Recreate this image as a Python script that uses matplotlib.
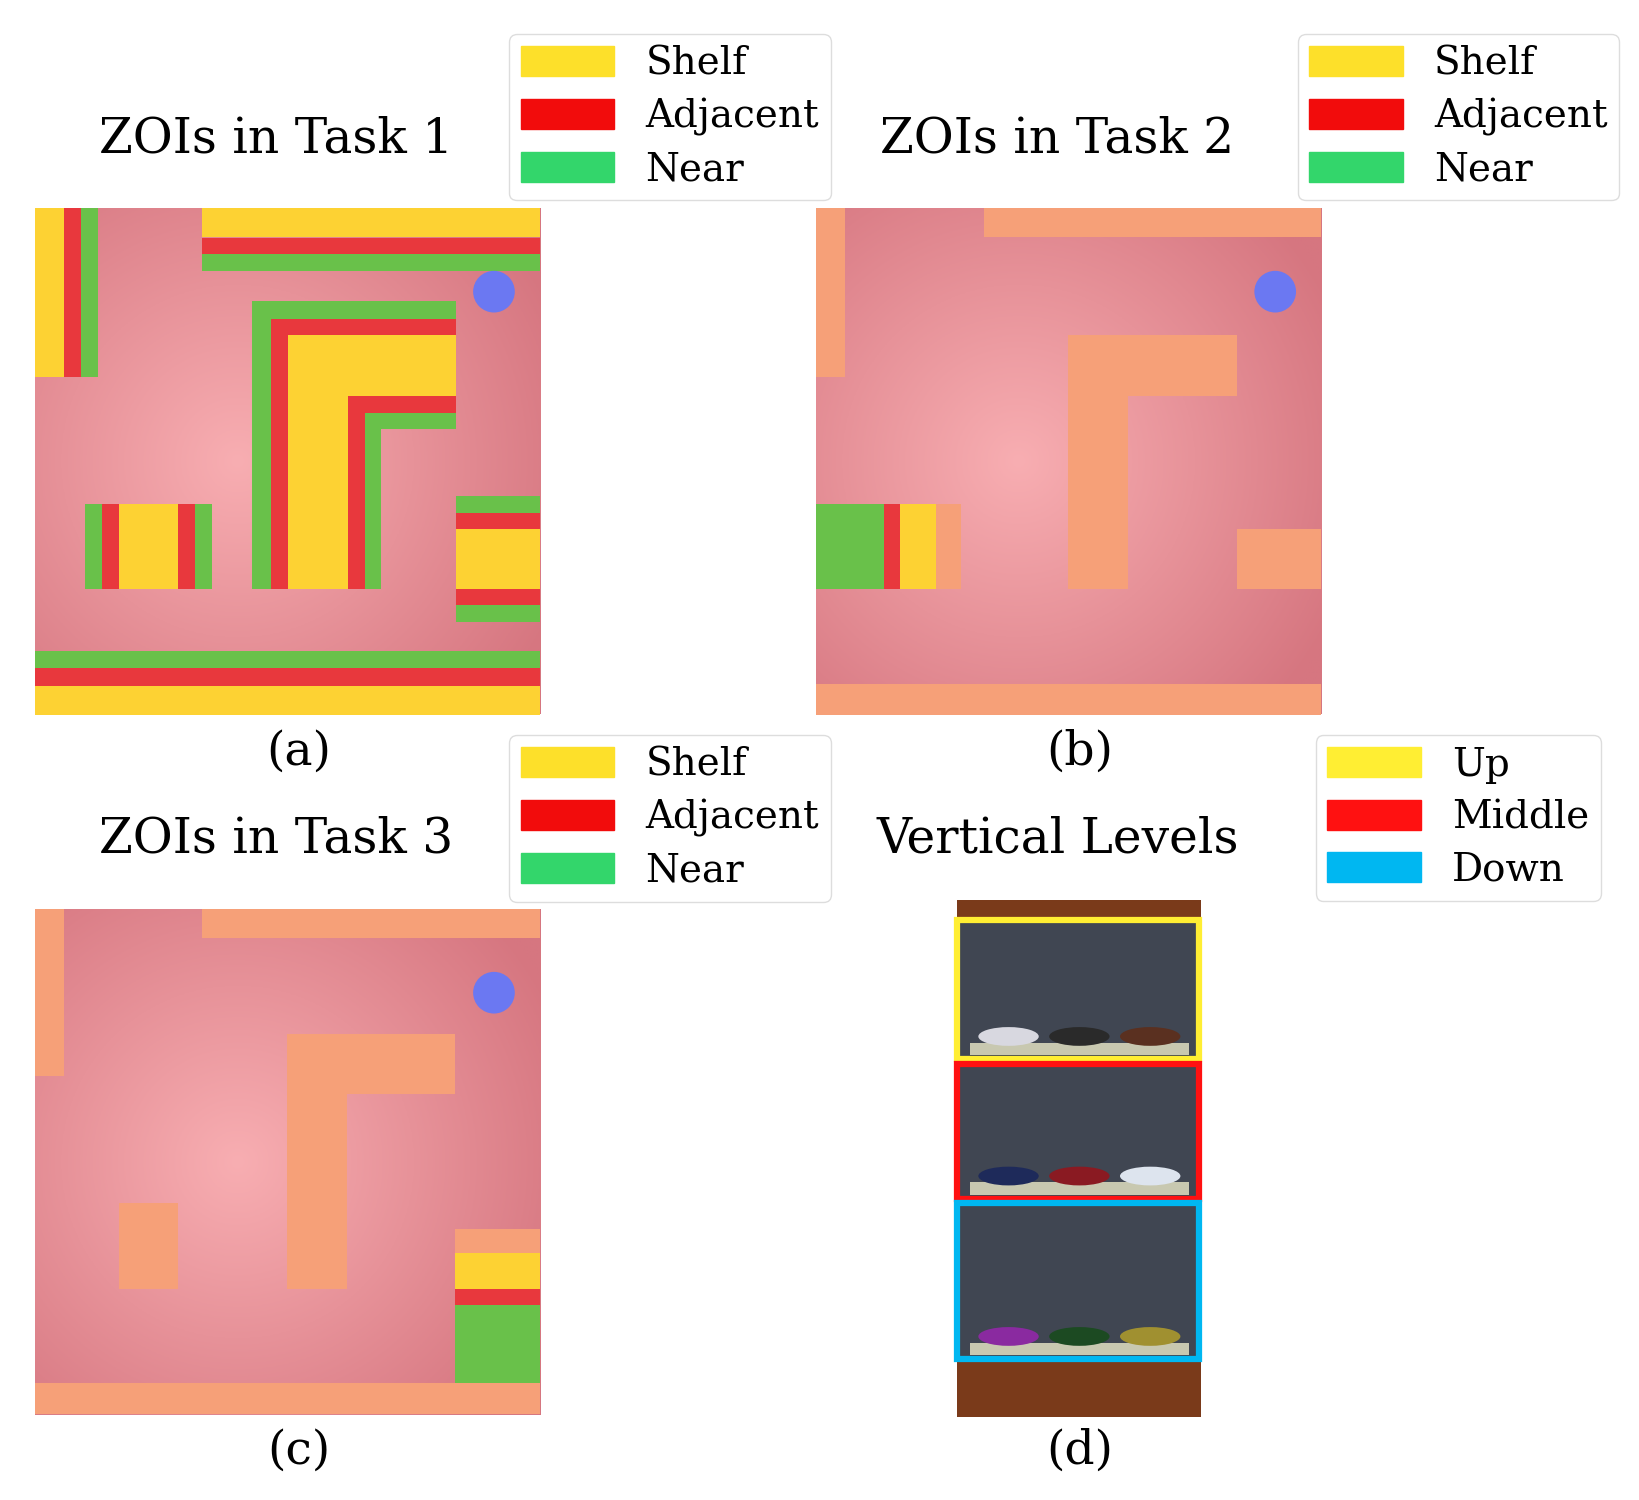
import numpy as np
import matplotlib.pyplot as plt
from matplotlib.patches import Rectangle, Ellipse, Patch

plt.rcParams['font.family'] = 'DejaVu Serif'

# panel layout in reference pixels (x0, y0) of each map, map size
map_size = 485
panel_origin = {'a': (26, 200), 'b': (776, 200), 'c': (26, 873)}
titles = {'a': 'ZOIs in Task 1', 'b': 'ZOIs in Task 2', 'c': 'ZOIs in Task 3', 'd': 'Vertical Levels'}
zoi_labels = ['Shelf', 'Adjacent', 'Near']
level_labels = ['Up', 'Middle', 'Down']

# rectangles relative to the map origin: (x0, y0, x1, y1, kind)
rects_a = [
    (0, 0, 28, 162, 'Y'), (28, 0, 45, 162, 'R'), (45, 0, 61, 162, 'G'),
    (161, 0, 485, 28, 'Y'), (161, 28, 485, 44, 'R'), (161, 44, 485, 60, 'G'),
    (209, 89, 405, 106, 'G'), (209, 89, 227, 365, 'G'),
    (227, 106, 405, 122, 'R'), (227, 106, 243, 365, 'R'),
    (243, 122, 405, 180, 'Y'), (243, 122, 301, 365, 'Y'),
    (301, 180, 405, 196, 'R'), (301, 180, 317, 365, 'R'),
    (317, 196, 405, 212, 'G'), (317, 196, 333, 365, 'G'),
    (48, 284, 65, 365, 'G'), (65, 284, 81, 365, 'R'), (81, 284, 138, 365, 'Y'),
    (138, 284, 154, 365, 'R'), (154, 284, 170, 365, 'G'),
    (405, 276, 485, 292, 'G'), (405, 292, 485, 308, 'R'), (405, 308, 485, 365, 'Y'),
    (405, 365, 485, 381, 'R'), (405, 381, 485, 397, 'G'),
    (0, 425, 485, 441, 'G'), (0, 441, 485, 459, 'R'), (0, 459, 485, 486, 'Y'),
]
rects_b = [
    (0, 0, 28, 162, 'O'), (161, 0, 485, 28, 'O'),
    (242, 122, 300, 365, 'O'), (242, 122, 404, 180, 'O'),
    (0, 284, 65, 365, 'G'), (65, 284, 81, 365, 'R'), (81, 284, 115, 365, 'Y'),
    (115, 284, 139, 365, 'O'),
    (404, 308, 485, 365, 'O'), (0, 457, 485, 486, 'O'),
]
rects_c = [
    (0, 0, 28, 160, 'O'), (161, 0, 485, 27, 'O'),
    (242, 120, 300, 364, 'O'), (242, 120, 404, 177, 'O'),
    (81, 282, 138, 364, 'O'),
    (404, 307, 485, 330, 'O'), (404, 330, 485, 364, 'Y'), (404, 364, 485, 380, 'R'),
    (404, 380, 485, 455, 'G'), (0, 455, 485, 484, 'O'),
]
robot_pos = (441, 80)

colors = {'Y': '#fdd233', 'R': '#e8383d', 'G': '#69c14a', 'O': '#f6a078'}
legend_zoi = ['#fde02a', '#f20c0c', '#33d66b']
legend_levels = ['#ffee33', '#ff1111', '#00b7f1']

fig = plt.figure(figsize=(16.4, 15), dpi=100)
ax = fig.add_axes([0, 0, 1, 1])
ax.set_xlim(0, 1560)
ax.set_ylim(1440, 0)
ax.axis('off')

# floor gradient
g = np.linspace(-1, 1, 200)
xx, yy = np.meshgrid(g, g)
r = np.clip(np.sqrt((xx + 0.2) ** 2 + yy ** 2) / 1.4, 0, 1)
c_in = np.array([248, 174, 178]) / 255
c_out = np.array([214, 118, 128]) / 255
floor = c_in[None, None, :] * (1 - r[..., None]) + c_out[None, None, :] * r[..., None]

for key, rects in (('a', rects_a), ('b', rects_b), ('c', rects_c)):
    ox, oy = panel_origin[key]
    ax.imshow(floor, extent=(ox, ox + map_size, oy + map_size, oy), zorder=1)
    for x0, y0, x1, y1, k in rects:
        ax.add_patch(Rectangle((ox + x0, oy + y0), x1 - x0, y1 - y0, color=colors[k], lw=0, zorder=2))
    ax.add_patch(Ellipse((ox + robot_pos[0], oy + robot_pos[1]), 40, 40, color='#6b78f2', lw=0, zorder=3))

# shelf photo, panel (d)
ax.add_patch(Rectangle((912, 864), 234, 496, color='#7a3a1a', lw=0, zorder=1))
level_boxes = [(883, 1017), (1021, 1151), (1155, 1305)]
shoe_cols = [['#d8d8e0', '#2a2a2a', '#5a3020'], ['#1e2a5a', '#8a1a22', '#dde4ee'], ['#8a2aa0', '#1c4a22', '#a09030']]
for (y0, y1), col, shoes in zip(level_boxes, legend_levels, shoe_cols):
    ax.add_patch(Rectangle((912, y0), 234, y1 - y0, color='#404652', lw=0, zorder=2))
    ax.add_patch(Rectangle((924, y1 - 16), 210, 12, color='#c8c8b0', lw=0, zorder=3))
    for i, sc in enumerate(shoes):
        ax.add_patch(Ellipse((961 + i * 68, y1 - 22), 58, 18, color=sc, lw=0, zorder=3))
    ax.add_patch(Rectangle((912, y0), 232, y1 - y0, fill=False, ec=col, lw=4.5, zorder=4))

# titles and sub-labels
title_pos = {'a': (258, 133), 'b': (1008, 133), 'c': (258, 805), 'd': (1008, 805)}
for k, (x, y) in title_pos.items():
    ax.text(x, y, titles[k], fontsize=35, ha='center', va='center')
sub_pos = {'a': (280, 722), 'b': (1029, 722), 'c': (280, 1393), 'd': (1029, 1393)}
for k, (x, y) in sub_pos.items():
    ax.text(x, y, f'({k})', fontsize=34, ha='center', va='center')

# legends
def add_legend(labels, cols, x, y):
    handles = [Patch(color=c, label=l) for c, l in zip(cols, labels)]
    fig.legend(handles=handles, loc='upper left', bbox_to_anchor=(x / 1560, 1 - y / 1440),
               fontsize=28, handlelength=2.4, handleheight=0.8, labelspacing=0.4,
               borderpad=0.3, framealpha=1, edgecolor='#dddddd')

add_legend(zoi_labels, legend_zoi, 466, 14)
add_legend(zoi_labels, legend_zoi, 1216, 14)
add_legend(zoi_labels, legend_zoi, 466, 687)
add_legend(level_labels, legend_levels, 1233, 687)

fig.savefig('out.png', dpi=100)
